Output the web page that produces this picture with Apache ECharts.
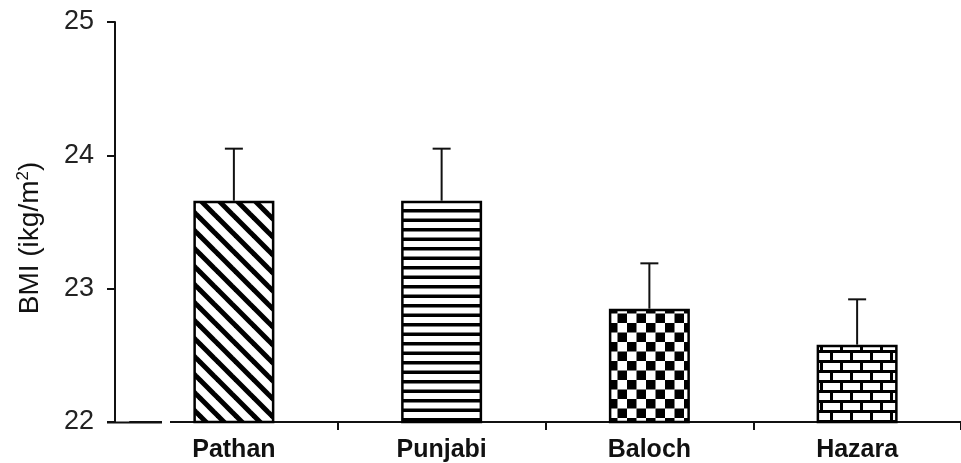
<!DOCTYPE html>
<html>
<head>
<meta charset="utf-8">
<script src="https://cdn.jsdelivr.net/npm/echarts@6/dist/echarts.min.js"></script>
<style>
html,body{margin:0;padding:0;background:#fff;}
#chart{width:961px;height:463px;}
</style>
</head>
<body>
<div id="chart"></div>
<script>
// ---- data ----
const categories = ['Pathan', 'Punjabi', 'Baloch', 'Hazara'];
const meanBMI = [23.66, 23.66, 22.85, 22.58];
const upperBMI = [24.05, 24.05, 23.19, 22.92];
const yMin = 22, yMax = 25, yStep = 1;
const yTitle = {main: 'BMI (ikg/m', sup: '2', close: ')'};

// ---- font detection ----
function hasFont(name) {
  const c = document.createElement('canvas').getContext('2d');
  c.font = 'bold 28px monospace';
  const w1 = c.measureText('Pathan Punjabi').width;
  c.font = 'bold 28px "' + name + '", monospace';
  const w2 = c.measureText('Pathan Punjabi').width;
  return Math.abs(w1 - w2) > 0.5;
}
const narrow = hasFont('Liberation Sans Narrow');
const catFont = narrow ? {fontFamily: '"Liberation Sans Narrow"', fontSize: 28}
                       : {fontFamily: '"Liberation Sans", Arial', fontSize: 25};

// ---- patterns ----
function mk(w, h, draw) {
  const c = document.createElement('canvas');
  c.width = w; c.height = h;
  const g = c.getContext('2d');
  g.fillStyle = '#fff'; g.fillRect(0, 0, w, h);
  g.fillStyle = '#000'; g.strokeStyle = '#000';
  draw(g, w, h);
  return c;
}
const diag = mk(18, 18, (g, s) => {
  g.lineWidth = 5;
  for (let k = -1; k <= 1; k++) {
    g.beginPath();
    g.moveTo(k * s - 2, -2);
    g.lineTo(k * s + s + 2, s + 2);
    g.stroke();
  }
});
const horiz = mk(8, 19, (g) => {
  g.fillRect(0, 0, 8, 3.5);
  g.fillRect(0, 9.5, 8, 3.5);
});
const checker = mk(38, 38, (g) => {
  const c = 9.5;
  for (let r = 0; r < 4; r++) for (let q = 0; q < 4; q++)
    if ((r + q) % 2 === 0) g.fillRect(q * c, r * c, c, c);
});
const brick = mk(20, 20, (g) => {
  g.fillRect(0, 0, 20, 3);
  g.fillRect(0, 10, 20, 3);
  g.fillRect(0, 3, 3, 7);
  g.fillRect(10, 13, 3, 7);
});
const patterns = [diag, horiz, checker, brick];

const baseFont = '"Liberation Sans", Arial';
const chart = echarts.init(document.getElementById('chart'), null, {renderer: 'canvas'});
chart.setOption({
  backgroundColor: '#fff',
  animation: false,
  grid: {left: 130, top: 22, width: 838, height: 400.5, containLabel: false},
  xAxis: {
    type: 'category',
    data: categories,
    axisLine: {show: true, lineStyle: {color: '#111', width: 2}},
    axisTick: {show: true, length: 8, lineStyle: {color: '#111', width: 2},
               interval: function (i) { return i !== 0; }},
    axisLabel: Object.assign({color: '#111', fontWeight: 'bold', margin: 16}, catFont),
    splitLine: {show: false}
  },
  yAxis: {
    type: 'value',
    min: yMin, max: yMax, interval: yStep,
    offset: 15,
    axisLine: {show: true, lineStyle: {color: '#111', width: 2}},
    axisTick: {show: true, length: 8, lineStyle: {color: '#111', width: 2}},
    axisLabel: {color: '#222', fontSize: 27, fontFamily: baseFont, margin: 21},
    splitLine: {show: false}
  },
  series: [
    {
      type: 'bar',
      barWidth: 81,
      data: meanBMI.map((v, i) => ({
        value: v,
        itemStyle: {color: {image: patterns[i], repeat: 'repeat'}, borderColor: '#000', borderWidth: 2.5}
      }))
    },
    {
      type: 'custom',
      encode: {x: 0, y: 2},
      data: categories.map((c, i) => [i, meanBMI[i], upperBMI[i]]),
      renderItem: function (params, api) {
        const top = api.coord([api.value(0), api.value(2)]);
        const base = api.coord([api.value(0), api.value(1)]);
        const st = {stroke: '#111', lineWidth: 2};
        return {
          type: 'group',
          children: [
            {type: 'line', shape: {x1: top[0], y1: base[1], x2: top[0], y2: top[1]}, style: st},
            {type: 'line', shape: {x1: top[0] - 9, y1: top[1], x2: top[0] + 9, y2: top[1]}, style: st}
          ]
        };
      }
    }
  ],
  graphic: [
    {type: 'line', z: 100, shape: {x1: 107, y1: 422.5, x2: 162, y2: 422.5}, style: {stroke: '#111', lineWidth: 2}},
    {type: 'rect', z: 100, shape: {x: 162, y: 420, width: 8, height: 5}, style: {fill: '#fff'}},
    {
      type: 'text', z: 100, x: 30, y: 238, rotation: Math.PI / 2,
      style: {
        text: '{a|' + yTitle.main + '}{sup|' + yTitle.sup + '}{a|' + yTitle.close + '}',
        align: 'center', verticalAlign: 'middle',
        rich: {
          a: {fontSize: 28, fill: '#111', fontFamily: baseFont},
          sup: {fontSize: 17, fill: '#111', fontFamily: baseFont, padding: [0, 0, 14, 0]}
        }
      }
    }
  ]
});
</script>
</body>
</html>
